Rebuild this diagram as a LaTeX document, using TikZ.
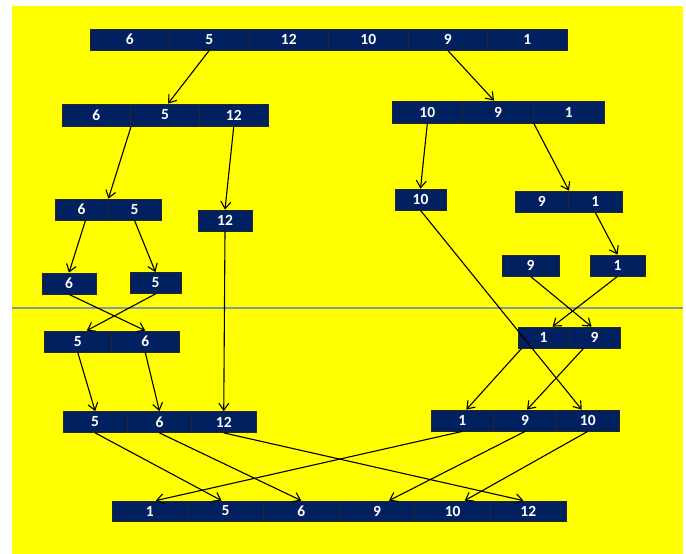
\documentclass[tikz,border=0pt]{standalone}
\usepackage{fontspec}
\setmainfont{Carlito}
\usepackage{xcolor}
\usepackage{tikz}
\usetikzlibrary{arrows.meta,calc}
\definecolor{navy}{RGB}{0,32,96}
\definecolor{bgyellow}{RGB}{255,255,0}
\definecolor{splitline}{RGB}{130,150,175}

\tikzset{
  cell/.style={draw=black!85, line width=0.8pt, fill=navy, text=white,
    font=\fontsize{15.5}{15.5}\selectfont\bfseries, inner sep=0pt, minimum height=21pt},
  link/.style={-{Straight Barb[length=7pt,width=10pt]}, line width=1.1pt}
}

\begin{document}
\begin{tikzpicture}[x=1pt, y=-1pt]
\useasboundingbox (0,0) rectangle (686,554);
% Background and split line
\fill[bgyellow] (12,6) rectangle (683,554);
\draw[splitline, line width=1.2pt] (12,308) -- (683,308);

% Top array
\foreach \v [count=\i] in {6,5,12,10,9,1}
    \node[cell, minimum width=79.5pt] (t\i) at ({90+79.5*(\i-0.5)},39.5) {\v};

% First split
\foreach \v [count=\i] in {6,5,12}
    \node[cell, minimum width=68.7pt, minimum height=22pt] (l\i) at ({62+68.7*(\i-0.5)},115) {\v};
\foreach \v [count=\i] in {10,9,1}
    \node[cell, minimum width=70.7pt, minimum height=22pt] (r\i) at ({392+70.7*(\i-0.5)},112) {\v};

% Second split
\foreach \v [count=\i] in {6,5}
    \node[cell, minimum width=53pt] (ll\i) at ({55+53*(\i-0.5)},209.5) {\v};
\node[cell, minimum width=54pt] (lr) at (225,220.5) {12};
\node[cell, minimum width=51pt] (rl) at (420.5,199.5) {10};
\foreach \v [count=\i] in {9,1}
    \node[cell, minimum width=53.5pt] (rr\i) at ({515+53.5*(\i-0.5)},201.5) {\v};

% Single elements
\node[cell, minimum width=54pt] (s6) at (69,283.5) {6};
\node[cell, minimum width=51pt] (s5) at (155.5,283) {5};
\node[cell, minimum width=57pt] (s9) at (530.5,265.5) {9};
\node[cell, minimum width=55pt] (s1) at (617.5,265.5) {1};

% First merge
\foreach \v [count=\i] in {5,6}
    \node[cell, minimum width=67.5pt] (ml\i) at ({44+67.5*(\i-0.5)},341.5) {\v};
\foreach \v [count=\i] in {1,9}
    \node[cell, minimum width=51pt] (mr\i) at ({518+51*(\i-0.5)},337.5) {\v};

% Second merge
\foreach \v [count=\i] in {5,6,12}
    \node[cell, minimum width=64.3pt] (sl\i) at ({63+64.3*(\i-0.5)},422) {\v};
\foreach \v [count=\i] in {1,9,10}
    \node[cell, minimum width=62.7pt] (sr\i) at ({431+62.7*(\i-0.5)},420.5) {\v};

% Sorted array
\foreach \v [count=\i] in {1,5,6,9,10,12}
    \node[cell, minimum width=75.7pt, minimum height=20pt] (f\i) at ({112+75.7*(\i-0.5)},511) {\v};

% Split arrows
\draw[link] (t2.south) -- ([xshift=3pt]l2.north);
\draw[link] (t5.south) -- ([xshift=-4pt]r2.north);
\draw[link] (l1.south east) -- (ll1.north east);
\draw[link] (l3.south) -- (lr.north);
\draw[link] (r1.south) -- (rl.north);
\draw[link] (r2.south east) -- (rr1.north east);
\draw[link] ([xshift=4pt]ll1.south) -- (s6.north);
\draw[link] (ll2.south) -- (s5.north);
\draw[link] (rr2.south) -- (s1.north);

% Merge arrows
\draw[link] (s6.south) -- (ml2.north);
\draw[link] (s5.south) -- ([xshift=9pt]ml1.north);
\draw[link] (s9.south) -- ([xshift=-3pt]mr2.north);
\draw[link] (s1.south) -- ([xshift=9pt]mr1.north);
\draw[link] (ml1.south) -- (sl1.north);
\draw[link] (ml2.south) -- (sl2.north);
\draw[link] (lr.south) -- (sl3.north);
\draw[link] ([xshift=4pt]mr1.south west) -- ([xshift=4pt]sr1.north);
\draw[link] ([xshift=-11pt]mr2.south) -- ([xshift=2pt]sr2.north);
\draw[link] (rl.south) -- ([xshift=-6pt]sr3.north);
\draw[link] (sl1.south) -- ([xshift=-4pt]f2.north);
\draw[link] (sl2.south) -- (f3.north);
\draw[link] (sl3.south) -- ([xshift=-5pt]f6.north);
\draw[link] (sr1.south) -- ([xshift=6pt]f1.north);
\draw[link] (sr2.south) -- ([xshift=12pt]f4.north);
\draw[link] (sr3.south) -- ([xshift=12pt]f5.north);
\end{tikzpicture}
\end{document}
